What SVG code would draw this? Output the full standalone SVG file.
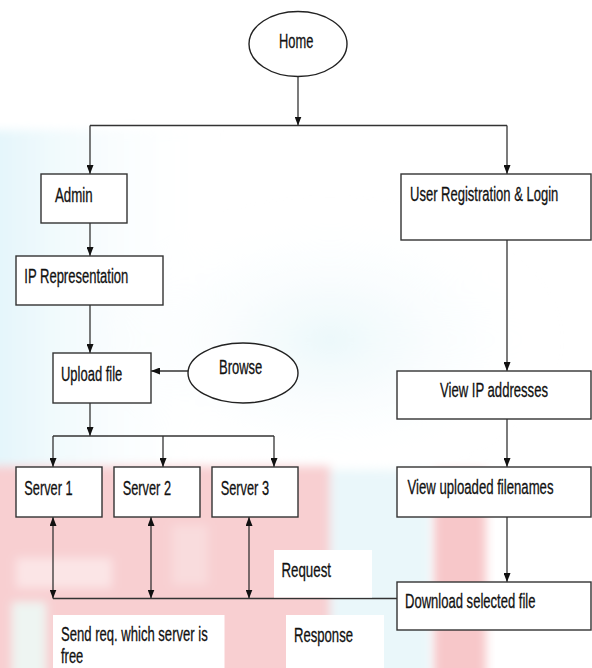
<svg xmlns="http://www.w3.org/2000/svg" width="592" height="668" viewBox="0 0 592 668">
<defs>
<marker id="arr" markerUnits="userSpaceOnUse" markerWidth="9" markerHeight="7" viewBox="0 0 9 7" refX="9" refY="3.5" orient="auto-start-reverse">
<path d="M0,0 L9,3.5 L0,7 z" fill="#111"/>
</marker>
<linearGradient id="cy" x1="0" y1="0" x2="1" y2="0">
<stop offset="0" stop-color="#e0f4fa"/>
<stop offset="1" stop-color="#ffffff" stop-opacity="0"/>
</linearGradient>
<radialGradient id="cy2" cx="0.5" cy="0.5" r="0.5">
<stop offset="0" stop-color="#ecf8fb"/>
<stop offset="1" stop-color="#ffffff" stop-opacity="0"/>
</radialGradient>
<filter id="soft" x="-10%" y="-10%" width="120%" height="120%">
<feGaussianBlur stdDeviation="5"/>
</filter>
</defs>
<style>
.box{fill:#fff;stroke:#333;stroke-width:1.4}
.ell{fill:#fff;stroke:#222;stroke-width:1.4}
.ln{fill:none;stroke:#333;stroke-width:1.3}
.ar{marker-end:url(#arr)}
.dbl{marker-start:url(#arr);marker-end:url(#arr)}
.lbl{fill:#fff}
text{font-family:"Liberation Sans",Arial,sans-serif;font-size:13.5px;fill:#111;stroke:#111;stroke-width:0.2}
</style>
<rect width="592" height="668" fill="#fff"/>
<g id="watermark" filter="url(#soft)">
<rect x="-20" y="130" width="240" height="340" fill="url(#cy)"/>
<ellipse cx="330" cy="340" rx="230" ry="140" fill="url(#cy2)"/>
<rect x="330" y="470" width="100" height="210" fill="#eaf7fa"/>
<rect x="-10" y="466" width="340" height="212" fill="#f8cfd1"/>
<rect x="16" y="558" width="96" height="30" fill="#fbe5e6"/>
<rect x="12" y="602" width="34" height="76" fill="#eef5f2"/>
<rect x="172" y="525" width="36" height="60" fill="#f9dcdd"/>
<rect x="434" y="470" width="52" height="210" fill="#f7c7c9"/>
</g>
<g id="connectors">
<path class="ln ar" d="M298,77 V125.5"/>
<path class="ln" d="M90,125.5 H507"/>
<path class="ln ar" d="M90,125.5 V174"/>
<path class="ln ar" d="M507,125.5 V174"/>
<path class="ln ar" d="M90,223 V256"/>
<path class="ln ar" d="M90,305 V353"/>
<path class="ln ar" d="M188,371 H151"/>
<path class="ln ar" d="M90,403 V436"/>
<path class="ln" d="M53,436 H274"/>
<path class="ln ar" d="M53,436 V467"/>
<path class="ln ar" d="M163,436 V467"/>
<path class="ln ar" d="M274,436 V467"/>
<path class="ln ar" d="M507,240 V371"/>
<path class="ln ar" d="M507,419 V467"/>
<path class="ln ar" d="M507,517 V582"/>
<path class="ln dbl" d="M53,517 V598.5"/>
<path class="ln dbl" d="M151,517 V598.5"/>
<path class="ln dbl" d="M249,517 V598.5"/>
<path class="ln" d="M53,598.5 H397"/>
</g>
<g id="home"><ellipse class="ell" cx="298" cy="44" rx="49" ry="32.5"/><text transform="translate(279,47.5) scale(1,1.5)" textLength="34.3" lengthAdjust="spacingAndGlyphs">Home</text></g>
<g id="admin"><rect class="box" x="41" y="174" width="86" height="49"/><text transform="translate(55,201.5) scale(1,1.5)" textLength="37.7" lengthAdjust="spacingAndGlyphs">Admin</text></g>
<g id="ip-representation"><rect class="box" x="16" y="256" width="147" height="49"/><text transform="translate(24.3,282.7) scale(1,1.5)" textLength="104" lengthAdjust="spacingAndGlyphs">IP Representation</text></g>
<g id="upload-file"><rect class="box" x="53" y="353" width="98" height="50"/><text transform="translate(61,380.5) scale(1,1.5)" textLength="61.3" lengthAdjust="spacingAndGlyphs">Upload file</text></g>
<g id="browse"><ellipse class="ell" cx="243" cy="373" rx="55" ry="30"/><text transform="translate(219,373.5) scale(1,1.5)" textLength="43.3" lengthAdjust="spacingAndGlyphs">Browse</text></g>
<g id="server1"><rect class="box" x="16" y="467" width="86" height="50"/><text transform="translate(24.3,494.5) scale(1,1.5)" textLength="48.3" lengthAdjust="spacingAndGlyphs">Server 1</text></g>
<g id="server2"><rect class="box" x="114" y="467" width="86" height="50"/><text transform="translate(122.7,494.5) scale(1,1.5)" textLength="48.3" lengthAdjust="spacingAndGlyphs">Server 2</text></g>
<g id="server3"><rect class="box" x="212" y="467" width="86" height="50"/><text transform="translate(220.7,494.5) scale(1,1.5)" textLength="48.3" lengthAdjust="spacingAndGlyphs">Server 3</text></g>
<g id="user-registration"><rect class="box" x="401" y="174" width="190" height="66"/><text transform="translate(410,200.5) scale(1,1.5)" textLength="148.3" lengthAdjust="spacingAndGlyphs">User Registration &amp; Login</text></g>
<g id="view-ip"><rect class="box" x="397" y="371" width="194" height="48"/><text transform="translate(440,397) scale(1,1.5)" textLength="108" lengthAdjust="spacingAndGlyphs">View IP addresses</text></g>
<g id="view-uploaded"><rect class="box" x="397" y="467" width="194" height="50"/><text transform="translate(407.5,494) scale(1,1.5)" textLength="146" lengthAdjust="spacingAndGlyphs">View uploaded filenames</text></g>
<g id="download"><rect class="box" x="397" y="582" width="194" height="48"/><text transform="translate(405,608.3) scale(1,1.5)" textLength="130.5" lengthAdjust="spacingAndGlyphs">Download selected file</text></g>
<g id="request"><rect class="lbl" x="274" y="550" width="98" height="47.5"/><text transform="translate(281.5,576.5) scale(1,1.5)" textLength="49.5" lengthAdjust="spacingAndGlyphs">Request</text></g>
<g id="response"><rect class="lbl" x="286" y="615" width="98" height="53"/><text transform="translate(294,641.7) scale(1,1.5)" textLength="59" lengthAdjust="spacingAndGlyphs">Response</text></g>
<g id="send-req"><rect class="lbl" x="53" y="615" width="171.5" height="53"/><text transform="translate(61,641) scale(1,1.5)" textLength="146.7" lengthAdjust="spacingAndGlyphs">Send req. which server is</text><text transform="translate(61,663.3) scale(1,1.5)" textLength="22.3" lengthAdjust="spacingAndGlyphs">free</text></g>
</svg>
